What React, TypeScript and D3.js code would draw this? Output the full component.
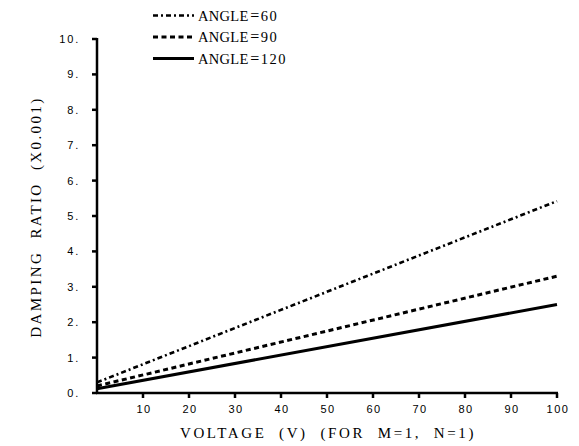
import React from "react";
import * as d3 from "d3";

const voltage = [0, 100];
const angle60 = [0.3, 5.42];
const angle90 = [0.2, 3.3];
const angle120 = [0.12, 2.5];
const seriesLabel = "ANGLE";
const seriesAngles = ["60", "90", "120"];
const xTicks = [10, 20, 30, 40, 50, 60, 70, 80, 90, 100];
const yTicks = [0, 1, 2, 3, 4, 5, 6, 7, 8, 9, 10];

const W = 579, H = 446;
const x = d3.scaleLinear().domain([0, 100]).range([97, 557]);
const y = d3.scaleLinear().domain([0, 10]).range([393, 39]);

const dashes = ["5,3,2,3", "5,3.5", ""];
const widths = [2.6, 3, 3];
const serif = "'Liberation Serif', 'Times New Roman', serif";
const sans = "'Liberation Sans', Arial, sans-serif";

export default function App() {
  const series = [angle60, angle90, angle120];
  const line = d3.line<[number, number]>().x(d => x(d[0])).y(d => y(d[1]));
  return (
    <svg width={W} height={H} style={{ position: "absolute", left: 0, top: 0, background: "#fff" }}>
      <line x1={x(0)} x2={x(0)} y1={y(10) - 1} y2={y(0) + 1} stroke="#000" strokeWidth={2.5} />
      <line x1={x(0) - 1} x2={x(100) + 1} y1={y(0)} y2={y(0)} stroke="#000" strokeWidth={2.5} />
      {yTicks.map(t => (
        <g key={"y" + t}>
          <line x1={x(0) - 5} x2={x(0)} y1={y(t)} y2={y(t)} stroke="#000" strokeWidth={2.5} />
          <text x={80} y={y(t) + 4} textAnchor="end" fontFamily={sans} fontSize={11} letterSpacing={1.8}>{t + "."}</text>
        </g>
      ))}
      {xTicks.map(t => (
        <g key={"x" + t}>
          <line x1={x(t)} x2={x(t)} y1={y(0)} y2={y(0) + 5} stroke="#000" strokeWidth={2.5} />
          <text x={x(t) + 1} y={413} textAnchor="middle" fontFamily={sans} fontSize={11} letterSpacing={1.5}>{t}</text>
        </g>
      ))}
      {series.map((s, i) => (
        <path key={i} d={line(voltage.map((v, j) => [v, s[j]]) as [number, number][]) || ""}
          fill="none" stroke="#000" strokeWidth={widths[i]} strokeDasharray={dashes[i]} />
      ))}
      {seriesAngles.map((a, i) => (
        <g key={a}>
          <line x1={153} x2={194} y1={15.5 + i * 21.5} y2={15.5 + i * 21.5} stroke="#000" strokeWidth={widths[i]} strokeDasharray={dashes[i]} />
          <text x={198} y={20.5 + i * 21.5} fontFamily={serif} fontSize={14.5}>
            <tspan letterSpacing={0.3}>{seriesLabel}</tspan>
            <tspan dx={1.5} fontSize={16}>=</tspan>
            <tspan dx={1.5} letterSpacing={1.5}>{a}</tspan>
          </text>
        </g>
      ))}
      <text x={328} y={438} textAnchor="middle" fontFamily={serif} fontSize={15} letterSpacing={2.6} style={{ whiteSpace: "pre" }}>{"VOLTAGE  (V)  (FOR  M=1,  N=1)"}</text>
      <text transform={`translate(41,${217}) rotate(-90)`} textAnchor="middle" fontFamily={serif} fontSize={15} letterSpacing={2.4} style={{ whiteSpace: "pre" }}>{"DAMPING  RATIO  (X0.001)"}</text>
    </svg>
  );
}
